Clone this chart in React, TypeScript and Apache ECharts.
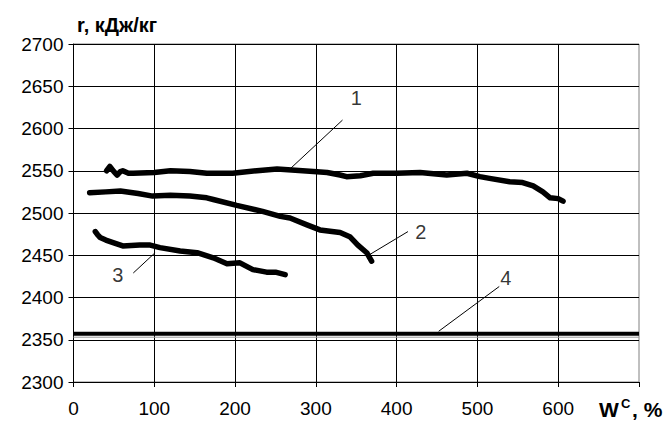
import React, { useEffect, useRef } from "react";
import * as echarts from "echarts";

const xTicks = [0, 100, 200, 300, 400, 500, 600, 700];
const yTicks = [2300, 2350, 2400, 2450, 2500, 2550, 2600, 2650, 2700];

const curve1X = [41, 45, 50, 54, 58, 61, 68, 74, 100, 120, 144, 165, 197, 227, 252, 270, 297, 314, 330, 338, 355, 371, 400, 429, 462, 487, 503, 515, 540, 556, 569, 581, 590, 600, 606];
const curve1Y = [2550, 2555, 2549, 2545, 2549, 2550, 2547, 2547, 2548, 2550, 2549, 2547, 2547, 2550, 2552, 2551, 2549, 2548, 2545, 2543, 2544, 2547, 2547, 2548, 2545, 2547, 2543, 2541, 2537, 2536, 2532, 2525, 2518, 2517, 2514];

const curve2X = [20, 40, 58, 80, 98, 120, 144, 165, 173, 202, 234, 256, 268, 289, 305, 330, 342, 352, 363, 369];
const curve2Y = [2524, 2525, 2526, 2523, 2520, 2521, 2520, 2518, 2516, 2509, 2502, 2496, 2494, 2486, 2480, 2477, 2472, 2462, 2453, 2443];

const curve3X = [27, 30, 33, 40, 49, 61, 82, 95, 107, 132, 153, 173, 190, 206, 222, 239, 250, 262];
const curve3Y = [2478, 2474, 2471, 2468, 2465, 2461, 2462, 2462, 2459, 2455, 2453, 2447, 2440, 2441, 2433, 2430, 2430, 2427];

const line4Value = 2357;
const line4GrayValue = 2353;

const labelNames = ["1", "2", "3", "4"];
const labelX = [350, 430, 55, 535];
const labelY = [2636, 2477, 2427, 2423];

const leaderFromX = [269, 367, 101, 452];
const leaderFromY = [2553, 2451, 2453, 2360];
const leaderToX = [333, 414, 74, 527];
const leaderToY = [2610, 2478, 2429, 2413];

const zip = (xs: number[], ys: number[]) => xs.map((x, i) => [x, ys[i]]);

const FONT = "'Liberation Sans', Arial, sans-serif";

export default function App() {
  const ref = useRef<HTMLDivElement>(null);
  useEffect(() => {
    document.body.style.margin = "0";
    if (!ref.current) return;
    const chart = echarts.init(ref.current, null, { renderer: "svg" });
    const curveStyle = { color: "#000", width: 5.5, cap: "round" as const, join: "round" as const };
    const series: any[] = [
      { type: "line", data: zip(curve1X, curve1Y), showSymbol: false, lineStyle: curveStyle, z: 5 },
      { type: "line", data: zip(curve2X, curve2Y), showSymbol: false, lineStyle: curveStyle, z: 5 },
      { type: "line", data: zip(curve3X, curve3Y), showSymbol: false, lineStyle: curveStyle, z: 5 },
      { type: "line", data: [[0, line4GrayValue], [700, line4GrayValue]], showSymbol: false, lineStyle: { color: "#999", width: 1 }, z: 4 },
      { type: "line", data: [[0, line4Value], [700, line4Value]], showSymbol: false, lineStyle: { color: "#000", width: 4 }, z: 5 },
    ];
    labelNames.forEach((_, i) => {
      series.push({
        type: "line",
        data: [[leaderFromX[i], leaderFromY[i]], [leaderToX[i], leaderToY[i]]],
        showSymbol: false,
        lineStyle: { color: "#000", width: 1 },
        z: 6,
      });
    });
    series.push({
      type: "scatter",
      symbolSize: 0,
      data: labelNames.map((n, i) => ({ value: [labelX[i], labelY[i]], name: n })),
      label: {
        show: true,
        position: "inside",
        formatter: (p: any) => p.name,
        fontFamily: FONT,
        fontSize: 20,
        color: "#000",
      },
      z: 7,
    });

    chart.setOption({
      animation: false,
      backgroundColor: "#fff",
      grid: {
        left: 73.5,
        right: 25,
        top: 44,
        bottom: 39,
        show: true,
        borderColor: "#808080",
        borderWidth: 1,
      },
      xAxis: {
        type: "value",
        min: xTicks[0],
        max: xTicks[xTicks.length - 1],
        interval: 100,
        axisLine: { show: true, lineStyle: { color: "#000", width: 1 } },
        axisTick: { show: true, length: 5, lineStyle: { color: "#000" } },
        axisLabel: {
          margin: 17,
          fontFamily: FONT,
          fontSize: 19,
          color: "#000",
          formatter: (v: number) => (v === 700 ? "" : String(v)),
        },
        splitLine: { show: true, showMaxLine: false, lineStyle: { color: "#000", width: 1 } },
      },
      yAxis: {
        type: "value",
        min: yTicks[0],
        max: yTicks[yTicks.length - 1],
        interval: 50,
        axisLine: { show: true, lineStyle: { color: "#000", width: 1 } },
        axisTick: { show: true, length: 5, lineStyle: { color: "#000" } },
        axisLabel: { margin: 10, fontFamily: FONT, fontSize: 19, color: "#000", formatter: (v: number) => String(v) },
        splitLine: { show: true, lineStyle: { color: "#000", width: 1 } },
      },
      graphic: [
        {
          type: "text",
          left: 77,
          top: 15,
          style: { text: "r, кДж/кг", font: `bold 20px ${FONT}`, fill: "#000" },
        },
        {
          type: "text",
          x: 599,
          y: 420,
          style: { text: "W", font: `bold 21px ${FONT}`, fill: "#000", textVerticalAlign: "bottom" },
        },
        {
          type: "text",
          x: 621,
          y: 410,
          style: { text: "C", font: `bold 13px ${FONT}`, fill: "#000", textVerticalAlign: "bottom" },
        },
        {
          type: "text",
          x: 632,
          y: 420,
          style: { text: ", %", font: `bold 21px ${FONT}`, fill: "#000", textVerticalAlign: "bottom" },
        },
      ],
      series,
    });
    return () => chart.dispose();
  }, []);
  return <div ref={ref} style={{ width: 664, height: 421 }} />;
}
